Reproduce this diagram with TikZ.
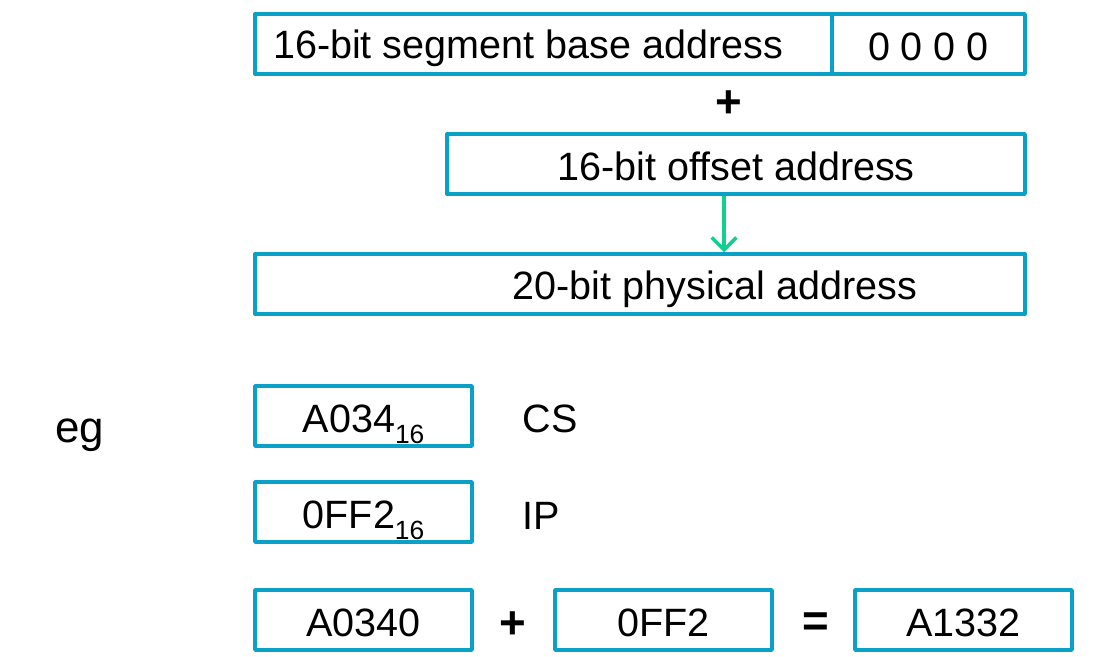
\documentclass[tikz,border=0pt]{standalone}
\usepackage{fontspec}
\usetikzlibrary{arrows.meta}
\setmainfont{Liberation Sans}
\definecolor{boxblue}{RGB}{10,160,200}
\definecolor{arrowgreen}{RGB}{16,208,144}
\newcommand{\hexsub}[1]{\raisebox{-0.5ex}{\fontsize{15}{15}\selectfont #1}}
\begin{document}
\begin{tikzpicture}[x=0.02cm, y=-0.02cm, font=\fontsize{22.5}{27}\selectfont, line join=round,
	box/.style={draw=boxblue, line width=2pt, minimum height=1.2cm, inner sep=0pt, text height=19pt, text depth=0pt},
	sign/.style={font=\fontsize{26}{30}\selectfont\bfseries}]
	\useasboundingbox (0,0) rectangle (1108,656);
	%%%%%%%%%%%%%%%%%%%%%%%%%%%%%%%%%
	\node[box, minimum width=11.54cm] (seg) at (543.5,44) {};
	\node[box, minimum width=3.86cm] (zero) at (928.5,44) {0 0 0 0};
	\node at (528,48) {16-bit segment base address};
	\node[sign] (plus1) at (729,104) {+};
	\node[box, minimum width=11.56cm] (off) at (736,164) {16-bit offset address};
	\node[box, minimum width=15.4cm] (phys) at (640,284) {};
	\node at (715,289) {20-bit physical address};
	%%%%%%%%%%%%%%%%%%%%%%%%%%%%%%%%%
	\draw[-{Straight Barb[width=14pt, length=7pt, line width=2pt]}, arrowgreen, line width=2pt] (off.south -| 724,0) -- (phys.north -| 724,0);
	%%%%%%%%%%%%%%%%%%%%%%%%%%%%%%%%%
	\node[font=\fontsize{25}{30}\selectfont] (eg) at (80,435) {eg};
	\node[box, minimum width=4.34cm] (cs) at (363.5,416) {A034\hexsub{16}};
	\node (csl) at (550,419) {CS};
	\node[box, minimum width=4.34cm] (ip) at (363.5,512) {0FF2\hexsub{16}};
	\node (ipl) at (541,516) {IP};
	%%%%%%%%%%%%%%%%%%%%%%%%%%%%%%%%%
	\node[box, minimum width=4.34cm] (sum1) at (363.5,620) {A0340};
	\node[sign] (plus2) at (513,625) {+};
	\node[box, minimum width=4.34cm] (sum2) at (663.5,620) {0FF2};
	\node[sign] (eq) at (816,625) {=};
	\node[box, minimum width=4.34cm] (res) at (963.5,620) {A1332};
	%%%%%%%%%%%%%%%%%%%%%%%%%%%%%%%%%
\end{tikzpicture}
\end{document}
